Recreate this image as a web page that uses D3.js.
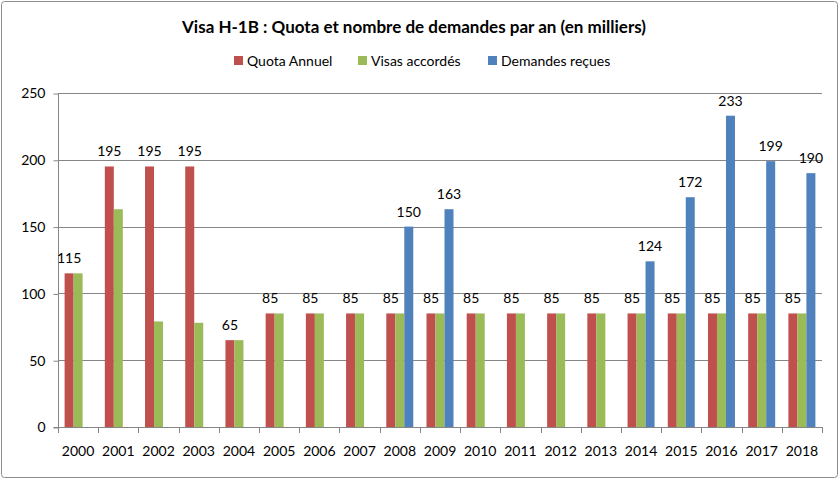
<!DOCTYPE html>
<html><head><meta charset="utf-8">
<script src="https://cdn.jsdelivr.net/npm/d3@7"></script>
<style>body{margin:0;background:#fff}svg{display:block;font-family:Lato,"Open Sans",sans-serif}</style>
</head><body><svg id="c" width="840" height="480"></svg>
<script>
const years = ["2000","2001","2002","2003","2004","2005","2006","2007","2008","2009","2010","2011","2012","2013","2014","2015","2016","2017","2018"];
const quota = [115,195,195,195,65,85,85,85,85,85,85,85,85,85,85,85,85,85,85];
const accordes = [115,163,79,78,65,85,85,85,85,85,85,85,85,85,85,85,85,85,85];
const demandes = [null,null,null,null,null,null,null,null,150,163,null,null,null,null,124,172,233,199,190];
const seriesNames = ["Quota Annuel","Visas accordés","Demandes reçues"];
const colors = ["#C0504D","#9BBB59","#4F81BD"];
const yTicks = [0,50,100,150,200,250];
const labelled = [true,false,true];

const svg = d3.select("#c");
svg.append("rect").attr("x",1.5).attr("y",1.5).attr("width",836).attr("height",476).attr("rx",3)
  .attr("fill","#fff").attr("stroke","#8c8c8c").attr("stroke-width",1);

const m = {l:58,r:822,t:93,b:427};
const x = d3.scaleBand().domain(years).range([m.l,m.r]).paddingInner(0).paddingOuter(0);
const y = d3.scaleLinear().domain([0,250]).range([m.b,m.t]);
const inner = d3.scaleBand().domain([0,1,2]).range([0,27]);

// gridlines
svg.append("g").selectAll("line").data(yTicks.filter(d=>d>0)).join("line")
  .attr("x1",m.l).attr("x2",m.r).attr("y1",d=>Math.round(y(d))+0.5).attr("y2",d=>Math.round(y(d))+0.5)
  .attr("stroke","#868686");

// y axis
const ya = svg.append("g").attr("transform",`translate(${m.l+0.5},0.5)`)
  .call(d3.axisLeft(y).tickValues(yTicks).tickSize(5).tickPadding(8));
ya.select(".domain").attr("stroke","#868686").attr("d",`M-5,${m.b}H0V${m.t}`);
ya.selectAll(".tick line").attr("stroke","#868686");
ya.selectAll(".tick text").attr("font-size",14).attr("fill","#000").attr("font-family","Lato");

// x axis
const xa = svg.append("g").attr("transform",`translate(0,${m.b+0.5})`)
  .call(d3.axisBottom(x).tickSize(0).tickPadding(19));
xa.select(".domain").attr("stroke","#868686").attr("d",`M${m.l},0H${m.r}`);
xa.selectAll(".tick text").attr("font-size",14).attr("fill","#000").attr("font-family","Lato");
svg.append("g").selectAll("line").data(d3.range(years.length+1)).join("line")
  .attr("x1",i=>Math.round(m.l+i*x.step())+0.5).attr("x2",i=>Math.round(m.l+i*x.step())+0.5)
  .attr("y1",m.b).attr("y2",m.b+6).attr("stroke","#868686");

const data = [quota,accordes,demandes];
data.forEach((arr,s)=>{
  const g = svg.append("g");
  const pts = years.map((yr,i)=>({yr,v:arr[i]})).filter(d=>d.v!=null);
  const off = x.bandwidth()/2 - 13.5 + inner(s);
  g.selectAll("rect").data(pts).join("rect")
    .attr("x",d=>x(d.yr)+off).attr("width",inner.bandwidth())
    .attr("y",d=>y(d.v)).attr("height",d=>y(0)-y(d.v)).attr("fill",colors[s]);
  if(labelled[s]){
    g.selectAll("text").data(pts).join("text")
      .attr("x",d=>x(d.yr)+off+inner.bandwidth()/2).attr("y",d=>y(d.v)-10)
      .attr("text-anchor","middle").attr("font-size",14).text(d=>d.v);
  }
});

// title
svg.append("text").attr("x",414).attr("y",33).attr("text-anchor","middle")
  .attr("font-size",17).attr("font-weight","bold").text("Visa H-1B : Quota et nombre de demandes par an (en milliers)");

// legend
const legX = [234,358,488];
const lg = svg.append("g");
seriesNames.forEach((n,i)=>{
  lg.append("rect").attr("x",legX[i]).attr("y",56).attr("width",9).attr("height",9).attr("fill",colors[i]);
  lg.append("text").attr("x",legX[i]+13).attr("y",66).attr("font-size",14).text(n);
});
</script></body></html>
